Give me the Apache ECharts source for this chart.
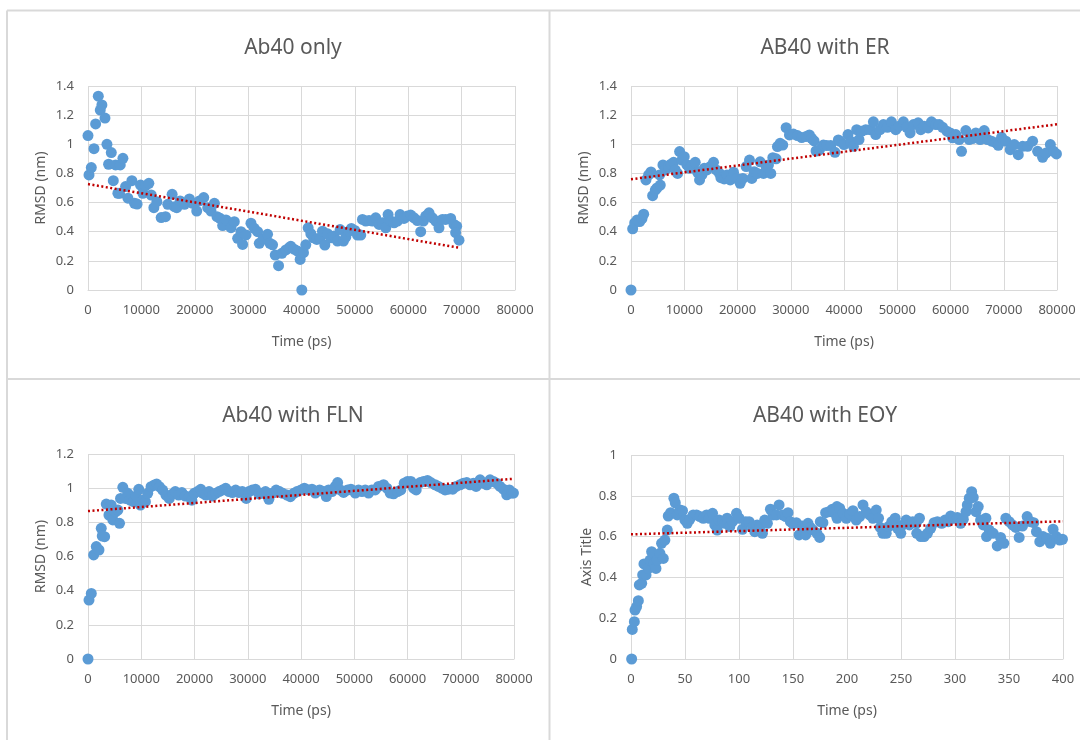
<!DOCTYPE html>
<html>
<head>
<meta charset="utf-8">
<script src="https://cdn.jsdelivr.net/npm/echarts@6/dist/echarts.min.js"></script>
<style>
html,body{margin:0;padding:0;background:#fff;}
#chart{width:1080px;height:740px;}
</style>
</head>
<body>
<div id="chart"></div>
<script>
// ---- Titles and axis names ----
const titles = ['Ab40 only', 'AB40 with ER', 'Ab40 with FLN', 'AB40 with EOY'];
const xNames = ['Time (ps)', 'Time (ps)', 'Time (ps)', 'Time (ps)'];
const yNames = ['RMSD (nm)', 'RMSD (nm)', 'RMSD (nm)', 'Axis Title'];

// ---- Panel 1: Ab40 only  [time (ps), RMSD (nm)] ----
const ab40Only = [
 [0,1.06],[190,0.79],[620,0.84],[1120,0.97],[1430,1.14],[1930,1.33],[2300,1.235],[2600,1.27],
 [3180,1.18],[3550,1.0],[3860,0.863],[4360,0.943],[4740,0.75],[5170,0.858],[5600,0.664],[6040,0.858],
 [6540,0.904],[5900,0.664],[7040,0.71],[7480,0.63],[8220,0.75],[8720,0.595],[9200,0.59],[9840,0.72],
 [10280,0.664],[10780,0.716],[11400,0.732],[11840,0.652],[12340,0.565],[12900,0.606],[13710,0.497],
 [14520,0.503],[14950,0.588],[15760,0.657],[16200,0.572],[16630,0.565],[17260,0.611],[18070,0.588],
 [19000,0.625],[19630,0.595],[20370,0.542],[20870,0.611],[21680,0.634],[22430,0.565],[23050,0.542],
 [23680,0.595],[24170,0.503],[24740,0.492],[25230,0.442],[25860,0.481],[26790,0.428],[27410,0.469],
 [28040,0.355],[28660,0.40],[28970,0.313],[29600,0.378],[30530,0.458],[31150,0.423],[31780,0.40],
 [32090,0.32],[32840,0.35],[33640,0.382],[34080,0.32],[34580,0.31],[35080,0.24],[35700,0.167],
 [36320,0.252],[37070,0.275],[37700,0.29],[38000,0.30],[38600,0.28],[39250,0.267],[39750,0.21],
 [40060,0.0],[40370,0.256],[40800,0.31],[41250,0.427],[41750,0.386],[42250,0.358],[42870,0.347],
 [43500,0.358],[43930,0.404],[44370,0.308],[44870,0.386],[45490,0.358],[46110,0.37],[46740,0.336],
 [47240,0.415],[47860,0.336],[48300,0.363],[48920,0.404],[49350,0.422],[49980,0.409],[50480,0.377],
 [51100,0.377],[51420,0.484],[52040,0.473],[52660,0.477],[53290,0.473],[53910,0.495],[54540,0.45],
 [55160,0.461],[55790,0.427],[56220,0.518],[56720,0.473],[57340,0.461],[57970,0.473],[58470,0.518],
 [59210,0.491],[59840,0.507],[60460,0.514],[61090,0.495],[61710,0.477],[62330,0.40],[62830,0.473],
 [63270,0.507],[63890,0.53],[64520,0.495],[65140,0.473],[65760,0.427],[66390,0.484],[67010,0.484],
 [67950,0.491],[68570,0.45],[69070,0.438],[68880,0.393],[69510,0.342]
];
const trendOnly = [[0,0.727],[69500,0.29]];

// ---- Panel 2: AB40 with ER ----
const ab40ER = [
 [0,0],[310,0.42],[690,0.46],[1130,0.48],[1630,0.47],[2060,0.49],[2380,0.52],[2810,0.755],[3310,0.79],
 [3750,0.81],[4060,0.647],[4560,0.686],[4880,0.70],[5500,0.72],[5370,0.79],[6000,0.858],[6440,0.824],
 [7060,0.847],[7500,0.863],[8000,0.876],[8310,0.824],[8750,0.80],[9130,0.95],[9560,0.892],[10000,0.915],
 [10500,0.858],[11000,0.835],[11440,0.858],[12060,0.876],[12500,0.808],[12880,0.755],[13310,0.79],
 [13750,0.835],[14250,0.824],[14880,0.847],[15500,0.876],[16000,0.824],[16630,0.80],[16880,0.771],
 [17500,0.762],[18000,0.79],[18630,0.755],[19250,0.808],[19880,0.766],[20500,0.732],[21000,0.766],
 [21630,0.847],[22250,0.892],[22690,0.766],[23130,0.812],[23750,0.80],[24250,0.88],[24880,0.80],
 [25380,0.847],[25810,0.858],[26250,0.80],[26630,0.908],[27250,0.90],[27500,0.984],[28000,1.007],
 [28500,0.995],[29130,1.114],[29750,1.064],[30500,1.07],[31250,1.06],[32060,1.046],[32880,1.053],
 [33500,1.064],[33940,1.041],[34380,1.023],[34750,0.954],[35380,0.961],[36130,0.995],[36750,0.991],
 [37500,0.991],[38310,0.945],[38940,1.03],[39250,1.02],[40000,0.998],[40750,1.067],[41250,1.02],
 [41760,0.986],[42380,1.10],[42820,1.032],[43260,1.089],[44080,1.10],[44890,1.10],[45520,1.154],
 [45960,1.067],[46770,1.10],[47400,1.135],[48150,1.117],[48900,1.154],[49720,1.10],[50340,1.124],
 [51160,1.154],[51790,1.117],[52410,1.078],[53040,1.135],[53920,1.147],[54420,1.10],[55050,1.124],
 [55800,1.112],[56430,1.154],[57240,1.135],[57870,1.135],[58500,1.117],[59310,1.09],[59940,1.078],
 [60380,1.044],[61000,1.067],[61630,1.032],[62070,0.952],[62880,1.094],[63510,1.032],[64140,1.039],
 [64760,1.078],[65580,1.032],[66330,1.094],[66960,1.032],[67710,1.021],[68530,1.009],[68970,0.993],
 [69590,1.048],[70410,1.021],[71220,0.963],[71980,0.998],[72730,0.929],[73540,0.986],[74480,0.986],
 [75420,1.021],[76360,0.952],[77300,0.911],[77930,0.94],[78750,0.998],[79370,0.952],[79900,0.934]
];
const trendER = [[0,0.76],[80000,1.137]];

// ---- Panel 3: Ab40 with FLN ----
const ab40FLN = [
 [0,0],[190,0.345],[620,0.384],[1060,0.609],[1560,0.658],[2060,0.638],[2490,0.765],[2680,0.72],
 [3120,0.716],[3430,0.907],[3930,0.843],[4360,0.901],[4670,0.814],[5170,0.862],[5610,0.872],[5920,0.794],
 [6110,0.94],[6540,1.005],[7040,0.94],[7480,0.97],[7910,0.93],[8540,0.921],[9030,0.954],[9530,0.993],
 [9840,0.901],[10280,0.93],[10780,0.921],[11210,0.97],[11840,1.009],[12460,1.019],[12900,1.024],
 [13400,1.009],[14020,0.989],[14640,0.96],[15260,0.94],[15890,0.966],[16390,0.98],[17010,0.96],
 [17630,0.974],[18260,0.954],[19000,0.95],[19500,0.93],[19940,0.97],[20560,0.98],[21180,0.993],
 [21620,0.97],[22120,0.96],[22740,0.98],[23360,0.954],[23990,0.97],[24610,0.98],[25230,0.989],
 [25860,0.999],[26480,0.98],[27100,0.974],[27730,0.989],[28350,0.974],[28970,0.98],[29720,0.94],
 [30220,0.98],[30840,0.989],[31460,0.993],[32090,0.966],[32710,0.97],[33330,0.98],[33960,0.935],
 [34580,0.97],[35330,0.989],[35950,0.98],[36570,0.97],[37380,0.96],[38000,0.95],[38630,0.97],
 [39250,0.98],[40000,0.99],[40630,1.0],[41440,0.99],[42060,0.994],[42690,0.971],[43500,0.99],
 [44250,0.98],[44750,0.951],[45190,0.99],[45810,0.98],[46440,1.01],[46880,1.033],[47380,0.99],
 [48000,0.975],[48750,0.99],[49380,0.994],[50190,0.971],[50810,0.99],[51440,0.98],[52060,0.99],
 [52690,0.971],[53310,0.99],[53940,0.99],[54560,1.01],[55500,1.02],[56130,1.0],[56750,0.971],
 [57380,0.967],[58130,0.98],[58750,0.99],[59380,1.029],[60000,1.039],[60630,1.039],[61130,1.0],
 [61630,0.99],[62380,1.033],[63000,1.039],[63750,1.045],[64380,1.033],[65190,1.02],[65810,1.01],
 [66440,1.0],[67060,0.99],[67690,0.994],[68500,0.994],[69130,1.01],[69880,1.02],[70500,1.029],
 [71130,1.033],[71750,1.02],[72380,1.029],[72880,1.01],[73630,1.049],[74250,1.029],[74880,1.02],
 [75500,1.049],[76130,1.039],[76750,1.029],[77380,1.01],[78000,0.994],[78630,0.961],[79130,0.99],
 [79560,0.971],[79900,0.971]
];
const trendFLN = [[0,0.866],[80000,1.055]];

// ---- Panel 4: AB40 with EOY ----
const ab40EOY = [
 [0.6,0],[1.2,0.145],[3.1,0.183],[3.7,0.24],[5.2,0.257],[6.8,0.286],[7.7,0.363],[9.9,0.371],[10.8,0.412],
 [12.0,0.466],[13.9,0.412],[16.0,0.444],[17.6,0.485],[19.1,0.526],[21.3,0.469],[23.1,0.444],[24.3,0.485],
 [26.8,0.518],[28.3,0.567],[29.9,0.493],[31.4,0.583],[33.6,0.632],[34.5,0.701],[36.7,0.717],[39.7,0.788],
 [41.0,0.766],[42.8,0.706],[45.3,0.73],[47.7,0.727],[49.9,0.681],[52.1,0.665],[54.5,0.685],[57.6,0.706],
 [60.7,0.706],[63.8,0.698],[66.9,0.69],[70.0,0.706],[72.4,0.69],[75.5,0.714],[77.6,0.657],[79.8,0.632],
 [81.6,0.681],[84.7,0.673],[86.9,0.665],[89.0,0.69],[91.5,0.649],[93.9,0.673],[97.7,0.714],[100.1,0.69],
 [103.2,0.636],[106.3,0.673],[109.4,0.673],[112.4,0.649],[114.6,0.624],[116.8,0.657],[119.2,0.649],
 [121.7,0.616],[123.8,0.681],[126.3,0.665],[129.1,0.734],[131.5,0.706],[134.6,0.706],[137.1,0.755],
 [140.2,0.706],[143.3,0.698],[145.4,0.717],[147.6,0.673],[150.0,0.662],[153.1,0.668],[155.6,0.608],
 [158.6,0.652],[161.7,0.608],[163.9,0.665],[166.0,0.645],[168.5,0.632],[172.2,0.616],[174.7,0.596],
 [175.3,0.673],[177.7,0.668],[180.2,0.717],[183.3,0.722],[186.4,0.734],[190.7,0.747],[192.5,0.73],
 [187.7,0.717],[190.8,0.69],[193.2,0.739],[196.3,0.714],[199.4,0.69],[202.5,0.711],[205.5,0.727],
 [208.6,0.681],[211.7,0.698],[214.8,0.755],[217.8,0.722],[220.9,0.706],[224.0,0.69],[227.1,0.73],
 [229.2,0.69],[230.8,0.645],[233.2,0.616],[236.3,0.616],[238.5,0.649],[241.5,0.673],[244.6,0.69],
 [246.8,0.641],[249.8,0.616],[251.7,0.657],[254.8,0.681],[257.8,0.657],[260.9,0.673],[264.0,0.665],
 [267.1,0.69],[264.6,0.616],[268.3,0.60],[271.4,0.60],[274.5,0.616],[277.5,0.641],[280.6,0.668],
 [283.7,0.673],[287.7,0.665],[290.8,0.681],[293.8,0.673],[296.0,0.701],[299.1,0.69],[302.2,0.694],
 [305.2,0.665],[307.7,0.685],[310.2,0.722],[311.4,0.755],[313.2,0.788],[315.4,0.82],[316.9,0.792],
 [319.4,0.722],[321.5,0.747],[323.7,0.681],[326.2,0.657],[328.6,0.69],[331.7,0.632],[329.2,0.60],
 [335.4,0.616],[339.1,0.554],[342.2,0.596],[345.2,0.567],[347.1,0.69],[350.2,0.673],[353.2,0.657],
 [356.3,0.645],[359.4,0.596],[362.5,0.652],[366.8,0.698],[369.8,0.673],[372.9,0.668],[375.4,0.624],
 [378.5,0.575],[381.5,0.60],[385.2,0.592],[388.3,0.567],[390.8,0.636],[393.8,0.60],[396.9,0.583],
 [399.5,0.587]
];
const trendEOY = [[0,0.611],[400,0.675]];

// ---- Axis tick settings ----
const xMax = [80000, 80000, 80000, 400];
const xStep = [10000, 10000, 10000, 50];
const yMax = [1.4, 1.4, 1.2, 1];
const yStep = [0.2, 0.2, 0.2, 0.2];

const scatterData = [ab40Only, ab40ER, ab40FLN, ab40EOY];
const trendData = [trendOnly, trendER, trendFLN, trendEOY];

// ---- Layout (pixel geometry of the four plot areas) ----
const grids = [
  {left: 88,  top: 86,  width: 427, height: 204},
  {left: 631, top: 86,  width: 426, height: 204},
  {left: 88,  top: 454, width: 426, height: 205},
  {left: 631, top: 455, width: 432, height: 204}
];
const titlePos = [[288, 33], [820, 33], [288, 401], [820, 401]];
const yNameGap = [40, 40, 40, 37];

const FONT = '"Noto Sans", "Noto Sans CJK KR", sans-serif';
const TXT = '#595959';
const GRID = '#D9D9D9';

const chart = echarts.init(document.getElementById('chart'), null, {renderer: 'canvas'});

const option = {
  backgroundColor: '#ffffff',
  animation: false,
  textStyle: {fontFamily: FONT},
  title: titles.map((t, i) => ({
    text: t, left: titlePos[i][0], top: titlePos[i][1], textAlign: 'center',
    textStyle: {fontFamily: FONT, fontSize: 21, fontWeight: 'normal', color: TXT}
  })),
  grid: grids.map(g => Object.assign({containLabel: false}, g)),
  xAxis: grids.map((g, i) => ({
    gridIndex: i, type: 'value', min: 0, max: xMax[i], interval: xStep[i],
    name: xNames[i], nameLocation: 'middle', nameGap: 45,
    nameTextStyle: {fontFamily: FONT, fontSize: 14, color: TXT},
    axisLine: {show: true, lineStyle: {color: GRID, width: 1}},
    axisTick: {show: false},
    axisLabel: {fontFamily: FONT, fontSize: 13, color: TXT, margin: 14,
      formatter: v => String(v)},
    splitLine: {show: true, lineStyle: {color: GRID, width: 1}}
  })),
  yAxis: grids.map((g, i) => ({
    gridIndex: i, type: 'value', min: 0, max: yMax[i], interval: yStep[i],
    name: yNames[i], nameLocation: 'middle', nameGap: yNameGap[i],
    nameTextStyle: {fontFamily: FONT, fontSize: 14, color: TXT},
    axisLine: {show: false},
    axisTick: {show: false},
    axisLabel: {fontFamily: FONT, fontSize: 13, color: TXT, margin: 14},
    splitLine: {show: true, lineStyle: {color: GRID, width: 1}}
  })),
  series: [].concat(
    scatterData.map((d, i) => ({
      type: 'scatter', xAxisIndex: i, yAxisIndex: i, data: d,
      symbol: 'circle', symbolSize: 11,
      itemStyle: {color: '#5B9BD5', opacity: 1},
      z: 2
    })),
    trendData.map((d, i) => ({
      type: 'line', xAxisIndex: i, yAxisIndex: i, data: d,
      symbol: 'none', silent: true,
      lineStyle: {color: '#C00000', width: 2.5, type: [2, 2.5]},
      z: 5
    }))
  ),
  graphic: [
    {type: 'line', shape: {x1: 7, y1: 10.5, x2: 1080, y2: 10.5}, style: {stroke: GRID, lineWidth: 2}, silent: true},
    {type: 'line', shape: {x1: 7, y1: 10.5, x2: 7, y2: 740}, style: {stroke: GRID, lineWidth: 2}, silent: true},
    {type: 'line', shape: {x1: 549.5, y1: 10.5, x2: 549.5, y2: 740}, style: {stroke: GRID, lineWidth: 2}, silent: true},
    {type: 'line', shape: {x1: 7, y1: 379, x2: 1080, y2: 379}, style: {stroke: GRID, lineWidth: 2}, silent: true}
  ]
};

chart.setOption(option);
</script>
</body>
</html>
